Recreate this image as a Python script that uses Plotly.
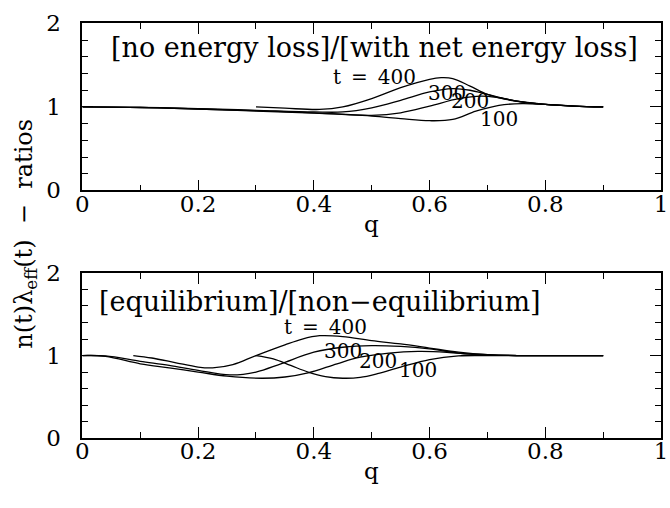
import plotly.graph_objects as go

# ---- data ----
times = ["100", "200", "300", "400"]

top_q_100 = [0, 0.1, 0.2, 0.3, 0.4, 0.5, 0.55, 0.6, 0.64, 0.68, 0.72, 0.76, 0.8, 0.85, 0.9]
top_r_100 = [1.0, 0.993, 0.975, 0.95, 0.925, 0.89, 0.86, 0.835, 0.85, 0.95, 1.02, 1.04, 1.03, 1.01, 1.0]
top_q_200 = [0, 0.1, 0.2, 0.3, 0.4, 0.5, 0.55, 0.6, 0.65, 0.69, 0.72, 0.76, 0.8, 0.85, 0.9]
top_r_200 = [1.0, 0.993, 0.975, 0.955, 0.93, 0.9, 0.93, 1.01, 1.1, 1.13, 1.11, 1.06, 1.03, 1.01, 1.0]
top_q_300 = [0, 0.1, 0.2, 0.3, 0.4, 0.45, 0.5, 0.55, 0.6, 0.64, 0.67, 0.7, 0.75, 0.8, 0.85, 0.9]
top_r_300 = [1.0, 0.995, 0.98, 0.96, 0.94, 0.94, 0.99, 1.08, 1.18, 1.22, 1.2, 1.15, 1.07, 1.03, 1.01, 1.0]
top_q_400 = [0.3, 0.35, 0.41, 0.45, 0.5, 0.55, 0.6, 0.62, 0.64, 0.67, 0.7, 0.74, 0.8, 0.85, 0.9]
top_r_400 = [1.0, 0.985, 0.97, 1.0, 1.1, 1.23, 1.33, 1.35, 1.34, 1.25, 1.15, 1.08, 1.03, 1.01, 1.0]

bot_q_100 = [0.3, 0.33, 0.36, 0.39, 0.42, 0.45, 0.48, 0.51, 0.55, 0.6, 0.65, 0.7, 0.9]
bot_r_100 = [1.0, 0.96, 0.88, 0.8, 0.745, 0.725, 0.735, 0.78, 0.86, 0.95, 0.995, 1.0, 1.0]
bot_q_200 = [0, 0.04, 0.1, 0.15, 0.2, 0.25, 0.31, 0.35, 0.39, 0.44, 0.48, 0.53, 0.58, 0.63, 0.68, 0.75, 0.9]
bot_r_200 = [1.0, 0.99, 0.9, 0.85, 0.8, 0.75, 0.725, 0.74, 0.79, 0.9, 0.98, 1.03, 1.05, 1.04, 1.01, 1.0, 1.0]
bot_q_300 = [0, 0.04, 0.1, 0.15, 0.2, 0.255, 0.3, 0.343, 0.4, 0.45, 0.5, 0.55, 0.6, 0.65, 0.7, 0.75, 0.9]
bot_r_300 = [1.0, 0.995, 0.93, 0.88, 0.82, 0.765, 0.8, 0.9, 1.04, 1.1, 1.12, 1.11, 1.08, 1.03, 1.01, 1.0, 1.0]
bot_q_400 = [0.088, 0.12, 0.16, 0.2, 0.225, 0.26, 0.3, 0.35, 0.38, 0.41, 0.45, 0.5, 0.55, 0.6, 0.65, 0.7, 0.75, 0.9]
bot_r_400 = [1.0, 0.97, 0.915, 0.86, 0.85, 0.89, 1.0, 1.13, 1.2, 1.24, 1.23, 1.18, 1.14, 1.09, 1.04, 1.01, 1.0, 1.0]

top_title = "[no energy loss]/[with net energy loss]"
bot_title = "[equilibrium]/[non\u2212equilibrium]"
top_label_pos = {"t\u2002=\u2002400": (0.505, 1.36), "300": (0.63, 1.165), "200": (0.67, 1.07), "100": (0.72, 0.85)}
bot_label_pos = {"t\u2002=\u2002400": (0.42, 1.35), "300": (0.45, 1.05), "200": (0.51, 0.93), "100": (0.58, 0.82)}

x_ticks = [0, 0.2, 0.4, 0.6, 0.8, 1]
x_ticktext = ["0", "0.2", "0.4", "0.6", "0.8", "1"]
y_ticks = [0, 1, 2]
x_title = "q"
y_title = "n(t)\u03bb<sub>eff</sub>(t)  \u2212  ratios"

FONT = "DejaVu Serif, Liberation Serif, serif"
W, H = 670, 508

fig = go.Figure()
top_series = [(top_q_100, top_r_100), (top_q_200, top_r_200), (top_q_300, top_r_300), (top_q_400, top_r_400)]
bot_series = [(bot_q_100, bot_r_100), (bot_q_200, bot_r_200), (bot_q_300, bot_r_300), (bot_q_400, bot_r_400)]
for t, (q, r) in zip(times, top_series):
    fig.add_trace(go.Scatter(x=q, y=r, mode="lines", line=dict(color="black", width=1.3, shape="spline"),
                             xaxis="x", yaxis="y", showlegend=False, name="t=" + t))
for t, (q, r) in zip(times, bot_series):
    fig.add_trace(go.Scatter(x=q, y=r, mode="lines", line=dict(color="black", width=1.3, shape="spline"),
                             xaxis="x2", yaxis="y2", showlegend=False, name="t=" + t))

xdom = [77 / W, 668 / W]
ydom_top = [(H - 187) / H, (H - 11) / H]
ydom_bot = [(H - 448) / H, (H - 274) / H]

def xax(dom_anchor):
    return dict(domain=xdom, range=[0, 1], anchor=dom_anchor, tickvals=x_ticks, ticktext=x_ticktext,
                ticks="inside", ticklen=11, tickwidth=1.3, tickcolor="black", mirror="allticks",
                showline=True, linecolor="black", linewidth=1.6, showgrid=False, zeroline=False,
                minor=dict(dtick=0.1, tick0=0, ticks="inside", ticklen=6, tickwidth=1.2, tickcolor="black"),
                tickfont=dict(family=FONT, size=23, color="black"), ticklabelstandoff=-8,
                ticklabeloverflow="allow")

def yax(dom, anchor):
    return dict(domain=dom, range=[0, 2], anchor=anchor, tickvals=y_ticks,
                ticks="inside", ticklen=11, tickwidth=1.3, tickcolor="black", mirror="allticks",
                showline=True, linecolor="black", linewidth=1.6, showgrid=False, zeroline=False,
                minor=dict(dtick=0.2, tick0=0, ticks="inside", ticklen=6, tickwidth=1.2, tickcolor="black"),
                tickfont=dict(family=FONT, size=23, color="black"), ticklabelstandoff=15,
                ticklabeloverflow="allow")

annotations = []
annotations.append(dict(x=0.505, y=1.71, xref="x", yref="y", text=top_title, showarrow=False,
                        font=dict(family=FONT, size=27, color="black")))
annotations.append(dict(x=0.41, y=1.66, xref="x2", yref="y2", text=bot_title, showarrow=False,
                        font=dict(family=FONT, size=27, color="black")))
for txt, (qx, ry) in top_label_pos.items():
    annotations.append(dict(x=qx, y=ry, xref="x", yref="y", text=txt, showarrow=False,
                            font=dict(family=FONT, size=20, color="black")))
for txt, (qx, ry) in bot_label_pos.items():
    annotations.append(dict(x=qx, y=ry, xref="x2", yref="y2", text=txt, showarrow=False,
                            font=dict(family=FONT, size=20, color="black")))
# x-axis titles, just below each panel's tick labels
for xr, yr in (("x domain", "y domain"), ("x2 domain", "y2 domain")):
    annotations.append(dict(x=0.5, y=-35 / 175, xref=xr, yref=yr, xanchor="center", yanchor="middle",
                            text=x_title, showarrow=False, font=dict(family=FONT, size=23, color="black")))
annotations.append(dict(x=18 / W, y=(H - 233) / H, xref="paper", yref="paper", xanchor="center", yanchor="middle",
                        text=y_title, textangle=-90, showarrow=False,
                        font=dict(family=FONT, size=24, color="black")))

fig.update_layout(
    width=W, height=H, autosize=False,
    margin=dict(l=0, r=0, t=0, b=0),
    paper_bgcolor="white", plot_bgcolor="white",
    xaxis=xax("y"), yaxis=yax(ydom_top, "x"),
    xaxis2=xax("y2"), yaxis2=yax(ydom_bot, "x2"),
    annotations=annotations,
)

fig.write_html("out.html")
